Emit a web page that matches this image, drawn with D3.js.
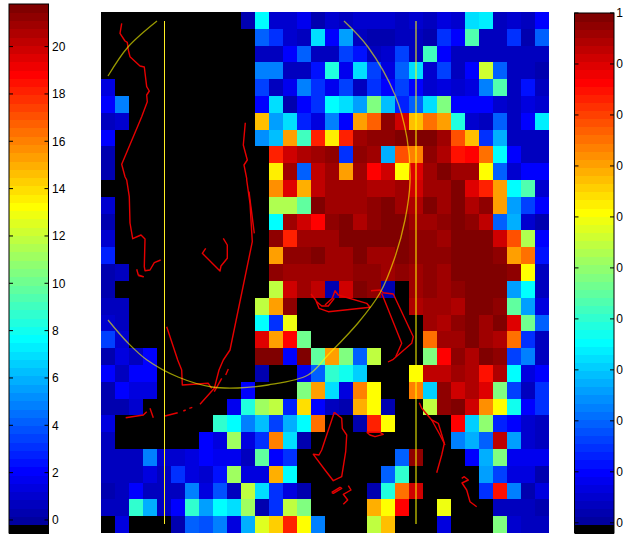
<!DOCTYPE html>
<html>
<head>
<meta charset="utf-8">
<script src="https://cdnjs.cloudflare.com/ajax/libs/d3/7.8.5/d3.min.js"></script>
<style>
html,body{margin:0;padding:0;background:#fff;}
svg{display:block;}
text{font-family:"Liberation Sans",Arial,sans-serif;font-size:12px;fill:#000;}
</style>
</head>
<body>
<svg id="c" width="623" height="536"></svg>
<script>
const _ = null;
const cellValues = [
[_,_,_,_,_,_,_,_,_,_,.3,7.8,1,1,1.7,.4,1,.6,1,1,1,.7,.9,.8,1.5,1,6.8,7.2,.5,1,.5,2.2],
[_,_,_,_,_,_,_,_,_,_,_,4.3,3,1,.5,6.8,2.2,5.6,.5,.4,.4,.7,.8,.4,3,1.9,9.5,.6,.6,3,.4,4.3],
[_,_,_,_,_,_,_,_,_,_,_,.5,.5,2,4,.5,.5,3.5,2.4,.8,1,3.5,.5,9.2,2.2,.6,.6,.6,.6,.7,.7,.5],
[_,_,_,_,_,_,_,_,_,_,_,4.7,4.7,.8,.8,2.5,8.2,1.8,6.8,3.5,1.2,4.2,6.8,1,3.5,.8,2.2,12.3,4.2,.6,.6,.3],
[1.3,_,_,_,_,_,_,_,_,_,_,3.5,.6,1.7,5,3.2,1.8,3.5,.5,3.2,2.2,3.5,2.2,1,1.5,1.1,1.2,5,9.5,.7,2.4,.6],
[2.2,5,_,_,_,_,_,_,_,_,_,2,7,.3,2.2,3,7.8,6.8,5.4,10.3,6.4,2.8,4.2,6.9,10.3,2.2,2,2,1,.7,1.2,1],
[.5,1.1,_,_,_,_,_,_,_,_,_,14.6,5.6,6.8,2.9,1.4,4.7,2.2,15.4,16.8,21.4,20,14.5,16.5,15.3,8.2,.9,.6,4.2,.7,2.2,7.3],
[2.2,_,_,_,_,_,_,_,_,_,_,5.3,6.4,15.3,9.2,18.2,13.6,18,21,21.3,21.4,21.5,21.5,21.6,20.8,17,14.5,3.2,5.8,.7,.5,.8],
[.3,_,_,_,_,_,_,_,_,_,_,_,18,20,20.6,21,21.4,3.2,21.2,21,5.8,17,16,21.2,20.7,18.4,19,16.5,7.8,2,.5,.5],
[.2,_,_,_,_,_,_,_,_,_,_,_,13.7,20.8,4.3,20.3,20.8,15.3,20.8,19,20,13.4,19.5,21.1,21.6,21,21,13.4,4.2,1,2.2,2.2],
[_,_,_,_,_,_,_,_,_,_,_,_,15.7,19.7,15,20.3,21,21,21,20.6,20.6,21,20,21,21,21.5,19.5,18,15.3,7.8,9.5,.9],
[.9,_,_,_,_,_,_,_,_,_,_,_,11.5,11.5,9.8,21.5,21,21,20.8,21.3,21.6,20.8,20.5,21.7,21.1,21.7,20.7,21.2,15.3,5.6,3.5,2],
[.3,_,_,_,_,_,_,_,_,_,_,_,7.8,21,19.9,19,21.3,21.7,20.5,21.4,21.6,21.6,21,20.9,21.4,21.7,21.2,20.4,4,5.8,1,.4],
[.9,_,_,_,_,_,_,_,_,_,_,_,21.3,18.2,21,21,21,21.7,21.5,21.5,21.6,21.7,21.4,21.3,21,21.8,21.7,21.6,20,17,11.5,1.9],
[2.6,_,_,_,_,_,_,_,_,_,_,_,15.3,21.2,21.2,21.6,20.9,21,21.7,21,21.1,21.6,21.4,21.3,21.2,21.7,21.5,21.6,21.4,15.2,16.4,2.3],
[.4,.5,_,_,_,_,_,_,_,_,_,_,21.3,21,21.1,21.1,21,21.1,21.4,21.2,21,21.3,21,21.2,21,21.5,21.7,21.7,21.8,21.3,13.2,.6],
[.3,_,_,_,_,_,_,_,_,_,_,_,12,20,21,20.3,.3,19.8,21.6,21.2,.3,_,20.8,21.4,21.1,21.3,21.8,21.7,21.8,5.4,7.6,.5],
[.6,.6,_,_,_,_,_,_,_,_,_,12,15.3,21.3,_,_,_,_,_,_,_,_,20.7,20.8,20.9,20.5,21.6,21.6,21.3,9.8,5.5,1.2],
[1,.8,_,_,_,_,_,_,_,_,_,7.8,3.2,13,_,_,_,_,_,_,_,_,_,20.8,20.7,21.4,21.8,21,21.6,19.7,10,4.2],
[3.6,1,_,_,_,_,_,_,_,_,_,19.7,15.3,19,10.2,_,_,_,_,_,_,_,_,16.3,20.8,21,21.5,20.9,20.7,16.5,3.2,.5],
[.3,1.5,.8,2.2,_,_,_,_,_,_,_,21.5,21.5,2,21.5,9.8,15.2,10.3,4,11.7,_,_,_,10.3,19,21.4,20.6,21.6,21.3,3.5,4.7,.6],
[2,.6,2,2,_,_,_,_,_,_,_,.3,_,_,1.7,4,8.8,7.9,6.5,_,_,_,13.4,20.2,20.2,20.9,20.6,18.6,20.6,7.8,1.5,2.2],
[.4,2.2,1.2,1.2,_,_,_,_,_,_,2.2,_,_,_,10.6,15.3,6.8,1.3,16,13.2,_,_,16,6.5,21.2,19.9,20.5,19.7,10.6,3.5,.7,3],
[.4,.4,1,_,_,_,_,_,_,1.6,8.3,11,12,2.8,14,2,.5,.4,14.9,13.4,.4,_,_,12,21.2,21.5,20,15.8,13.4,8,2,3],
[1.2,_,_,_,_,_,_,_,8.8,7.8,4.7,6.4,3.5,5.8,7.8,16.5,_,_,.4,18,13.4,_,_,_,_,19,6.5,10.8,2.8,2.2,1,.8],
[.5,_,_,_,_,_,_,2.2,1.2,11,1.2,3,15.9,7,.4,_,_,_,_,_,_,_,_,_,_,4.7,6,4,20.3,5.5,1.1,.5],
[.5,.5,.5,5,.9,.9,1.2,1.9,1.6,1.6,.8,9.8,2.2,3.2,_,_,_,_,_,_,_,4.3,21.4,_,_,_,2.2,5.8,10.3,1.7,1.7,1.7],
[.6,.6,.6,1.2,.6,3.2,1.2,1,2.4,11,1.4,1.4,15,7.8,_,_,_,_,_,_,4.3,8.8,_,_,_,_,_,5.6,3.5,1.2,1.5,.4],
[.4,.8,2.2,.6,.6,.5,4.7,1.3,3.7,.5,11.7,7,3.2,1.4,.4,_,_,_,_,.4,8.5,16.4,20,_,_,_,_,3,18.6,4.7,.4,1.2],
[.6,.6,8.8,5.8,.8,1.9,8.8,5.4,7.6,6.8,11,.4,3,12,10.6,_,_,_,_,15,13.4,19,_,_,13,_,_,_,.8,.6,.5,.4],
[_,1.3,_,_,_,.4,4.3,3.7,5,1.2,6,12.7,14.3,18.2,13.4,5,_,_,_,12,14.8,_,_,_,1.4,_,_,_,10.4,.9,.5,.5]
];

const leftTicks = [0,2,4,6,8,10,12,14,16,18,20];
const leftDomain = [-0.55,21.8];
const rightTicks = [0,.1,.2,.3,.4,.5,.6,.7,.8,.9,1];
const rightTickLabels = ["0","0","0","0","0","0","0","0","0","0","1"];
const rightDomain = [-0.02,1];

const guideX = [63.5,315];
const guideSpan = [9,512];
const arcMain = [[243,9],[267,35],[294,83],[306,126],[309,170],[304,208],[294,245],[279,281],[257,311],[227,343],[207,363],[167,373],[137,376],[111,375],[77,365],[46,348],[27,331],[7,308]];
const arcUpper = [[7,64],[27,35],[56,9]];

const traces = [
[[20.7,11.3],[19,21.3],[24,29],[26.3,30.3],[27.3,38],[29,44.7],[39,54],[43.3,55],[45.7,74.7],[48.3,79],[45.7,83],[46.3,89.7],[40.7,104.7],[20.7,152.3],[24,164.7],[25.7,168],[28.3,184.7],[29,211],[31.7,226.7],[40,223],[44,227],[43.3,254.7],[44,258.7],[49,258],[53.3,250.7],[59.7,248]],
[[35.7,257.3],[37.3,263],[42.3,264.7],[37.3,263.5]],
[[122.3,226.3],[126.3,233],[126.3,246.3],[120,254],[119,259],[101.3,241.3],[104.7,236.3]],
[[144.3,110.7],[142.3,133],[146.3,148],[143,153],[145.7,166.3],[145.7,168],[149,191.3],[151.3,229.7],[129,338],[122.3,348],[118,358],[113.3,376.3],[99,392.3]],
[[148,179.7],[153.3,221.3]],
[[127.3,357],[124.7,363]],
[[120.7,366.3],[113.3,379.7]],
[[65.7,314.7],[76.7,348],[80.7,358],[81.3,373],[107.3,371.3],[110.7,376.3]],
[[24.7,405.7],[42.3,403],[45.7,399.7]],
[[49,396.3],[52.3,405.7]],
[[64,404],[76.7,400.7]],
[[82.3,399],[84.7,398]],
[[88.3,396.3],[91.3,395.3]],
[[224,293],[231.3,286.3],[234,278.7],[237.3,283],[265.7,291.3],[269,295.3],[244,298],[227.3,299.7],[218,296.3],[214.7,288],[210,282]],
[[215.7,289.7],[220.7,294],[227.3,294],[233.3,286.3]],
[[270,278.7],[279,278],[282.3,280.7],[292.3,282],[312.3,324.7],[310.7,331.3],[292.3,347.3],[287,350]],
[[280.7,281.3],[300.7,331.3],[294.7,344.7]],
[[233.3,400.3],[240.7,406.3],[241.3,416.3],[245.7,423],[244.7,439.7],[240.7,464.7],[232.3,468.7],[224,458],[212.3,442.3],[218,443],[220.7,438],[233.3,400.3]],
[[230.7,480.3],[239,475.3],[240.7,476.3],[232.3,481.3],[230.7,480.3]],
[[247.3,473.7],[250,478],[242.3,482.3],[246.7,488],[242.3,492.3]],
[[265.7,420.3],[269,423],[274,424.7],[282.3,422.3],[279,420.3],[265.7,420.3]],
[[318.3,390.7],[320.7,396.3],[330.7,408],[337.3,411.3],[343.3,431.3],[340.7,443],[335.7,460.7]],
[[330.7,408],[339,423],[344,433]],
[[360.7,466.3],[363.3,464.7],[367.3,468],[361,471],[365.7,478],[369,489.7],[375.7,494.7]]
];

// jet colormap, 64 levels; the lowest level is black
const levels = 64;
const jetPart = t => Math.max(0, Math.min(1, 1.5 - Math.abs(4 * t - 2)));
const jetColors = d3.range(levels).map(i => {
  if (i === 0) return "#000";
  const t = (i + 1) / levels;
  return d3.rgb(jetPart(t - 0.25)*255, jetPart(t)*255, jetPart(t + 0.25)*255).formatHex();
});

const colorLeft = d3.scaleQuantize().domain(leftDomain).range(jetColors);

const svg = d3.select("#c");

// main heat map
const plot = {x:101, y:12, w:448, h:521};
const colBand = d3.scaleBand().domain(d3.range(cellValues[0].length)).range([plot.x, plot.x+plot.w]);
const rowBand = d3.scaleBand().domain(d3.range(cellValues.length)).range([plot.y, plot.y+plot.h]);
const gCells = svg.append("g").attr("shape-rendering","crispEdges");
gCells.append("rect").attr("x",plot.x).attr("y",plot.y).attr("width",plot.w).attr("height",plot.h).attr("fill","#000");
cellValues.forEach((row,r)=>{
  gCells.selectAll(null).data(row.map((v,c)=>({v,c})).filter(d=>d.v!==null)).join("rect")
    .attr("x",d=>colBand(d.c))
    .attr("y",rowBand(r))
    .attr("width",colBand.bandwidth())
    .attr("height",rowBand.bandwidth())
    .attr("fill",d=>colorLeft(d.v));
});

// overlay coordinates
const px = d3.scaleLinear().domain([0,448]).range([plot.x, plot.x+plot.w]);
const py = d3.scaleLinear().domain([0,521]).range([plot.y, plot.y+plot.h]);
const line = d3.line().x(d=>px(d[0])).y(d=>py(d[1]));

svg.append("g").selectAll("path").data(traces).join("path")
  .attr("d",line).attr("fill","none").attr("stroke","#e60000").attr("stroke-width",1.4).attr("stroke-linejoin","round");

const arcLine = d3.line().x(d=>px(d[0])).y(d=>py(d[1])).curve(d3.curveCatmullRom);
svg.append("g").selectAll("path").data([arcMain,arcUpper]).join("path")
  .attr("d",arcLine).attr("fill","none").attr("stroke","#ffff00").attr("stroke-opacity",.6).attr("stroke-width",1.3);

svg.append("line").attr("x1",px(guideX[0])).attr("x2",px(guideX[0])).attr("y1",py(guideSpan[0])).attr("y2",py(guideSpan[1]))
  .attr("stroke","#ffee22").attr("stroke-width",1);
svg.append("line").attr("x1",px(guideX[1])).attr("x2",px(guideX[1])).attr("y1",py(guideSpan[0])).attr("y2",py(guideSpan[1]))
  .attr("stroke","#ffff00").attr("stroke-opacity",.5).attr("stroke-width",2);

// colour bars
function colorbar(x,w,top,bottom,domain,ticks,labels,gap){
  const y = d3.scaleLinear().domain(domain).range([bottom,top]);
  const step = (domain[1]-domain[0])/levels;
  const g = svg.append("g");
  g.append("g").attr("shape-rendering","crispEdges").selectAll("rect").data(jetColors).join("rect")
    .attr("x",x).attr("width",w)
    .attr("y",(d,i)=>y(domain[0]+(i+1)*step))
    .attr("height",(d,i)=>y(domain[0]+i*step)-y(domain[0]+(i+1)*step)+0.5)
    .attr("fill",d=>d);
  g.append("rect").attr("x",x).attr("y",top).attr("width",w).attr("height",bottom-top)
    .attr("fill","none").attr("stroke","#000").attr("stroke-width",1);
  const t = g.selectAll("g.t").data(ticks).join("g").attr("class","t").attr("transform",d=>`translate(0,${y(d)})`);
  t.append("line").attr("x1",x).attr("x2",x+4).attr("stroke","#000");
  t.append("line").attr("x1",x+w-4).attr("x2",x+w).attr("stroke","#000");
  t.append("text").attr("x",x+w+gap).attr("dy","0.36em").text((d,i)=>labels[i]);
}
colorbar(9,39.5,4,533,leftDomain,leftTicks,leftTicks.map(String),3.5);
colorbar(574.5,39.5,13,533,rightDomain,rightTicks,rightTickLabels,2.2);
</script>
</body>
</html>
